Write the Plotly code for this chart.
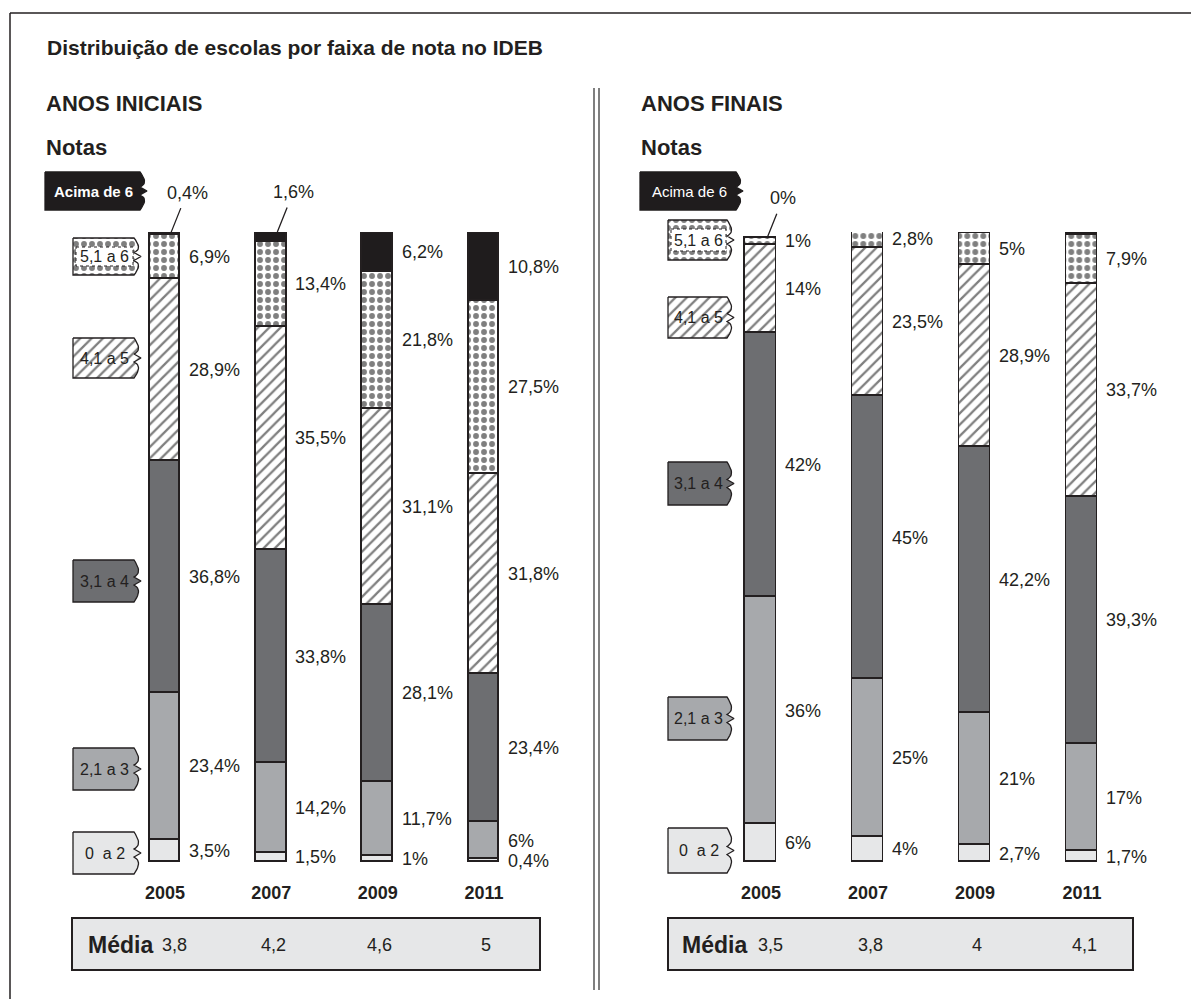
import numpy as np
import plotly.graph_objects as go

# ---------------- data ----------------
years = ["2005", "2007", "2009", "2011"]
faixas = ["0 a 2", "2,1 a 3", "3,1 a 4", "4,1 a 5", "5,1 a 6", "Acima de 6"]

# Anos iniciais (% de escolas em cada faixa)
ini_0a2 = [3.5, 1.5, 1.0, 0.4]
ini_2a3 = [23.4, 14.2, 11.7, 6.0]
ini_3a4 = [36.8, 33.8, 28.1, 23.4]
ini_4a5 = [28.9, 35.5, 31.1, 31.8]
ini_5a6 = [6.9, 13.4, 21.8, 27.5]
ini_6p = [0.4, 1.6, 6.2, 10.8]
ini_media = ["3,8", "4,2", "4,6", "5"]

# Anos finais
fin_0a2 = [6, 4, 2.7, 1.7]
fin_2a3 = [36, 25, 21, 17]
fin_3a4 = [42, 45, 42.2, 39.3]
fin_4a5 = [14, 23.5, 28.9, 33.7]
fin_5a6 = [1, 2.8, 5, 7.9]
fin_6p = [0, 0.1, 0.2, 0.4]
fin_media = ["3,5", "3,8", "4", "4,1"]

ini = [ini_0a2, ini_2a3, ini_3a4, ini_4a5, ini_5a6, ini_6p]
fin = [fin_0a2, fin_2a3, fin_3a4, fin_4a5, fin_5a6, fin_6p]

# ---------------- styling ----------------
W, H = 1191, 999
INK = "#231f20"
FONT = "Liberation Sans, Arial, sans-serif"
C_LIGHT, C_MID, C_DARK, C_BLACK = "#e6e7e8", "#a7a9ac", "#6d6e71", "#1f1c1d"

HATCH = dict(shape="/", fgcolor="#000000", bgcolor="white", size=8, solidity=0.28)
DOTS = dict(shape=".", fgcolor="#000000", bgcolor="white", size=8, solidity=0.42)

styles = {
    "0 a 2": dict(color=C_LIGHT),
    "2,1 a 3": dict(color=C_MID),
    "3,1 a 4": dict(color=C_DARK),
    "4,1 a 5": dict(color="white", pattern=HATCH),
    "5,1 a 6": dict(color="white", pattern=DOTS),
    "Acima de 6": dict(color=C_BLACK),
}


def fmt(v):
    return f"{v:g}".replace(".", ",") + "%"


fig = go.Figure()

panels = [
    dict(data=ini, media=ini_media, xa="x", ya="y"),
    dict(data=fin, media=fin_media, xa="x2", ya="y2"),
]

BAR_W = 0.29
Y0_PX, Y100_PX = 862, 232
LBL = dict(family=FONT, size=18, color=INK)

for p in panels:
    for name, vals in zip(faixas, p["data"]):
        st = styles[name]
        marker = dict(color=st["color"], line=dict(color=INK, width=1.8))
        if "pattern" in st:
            marker["pattern"] = st["pattern"]
        fig.add_trace(go.Bar(x=years, y=vals, name=name, width=BAR_W, marker=marker,
                             xaxis=p["xa"], yaxis=p["ya"], showlegend=False,
                             hoverinfo="skip"))
    # value labels
    arr = np.array(p["data"], dtype=float)
    cum = np.cumsum(arr, axis=0)
    for j, yr in enumerate(years):
        for i in range(len(faixas)):
            v = arr[i, j]
            top = cum[i, j]
            mid = top - v / 2
            if i == len(faixas) - 1 and v < 3:
                fig.add_annotation(x=j, y=top, xref=p["xa"], yref=p["ya"], text=fmt(v),
                                   showarrow=True, arrowhead=0, arrowwidth=1.3,
                                   arrowcolor=INK, ax=16, ay=-40, xshift=6,
                                   borderpad=5, font=LBL)
            else:
                fig.add_annotation(x=j, y=mid, xref=p["xa"], yref=p["ya"], text=fmt(v),
                                   showarrow=False, xanchor="left", xshift=22, font=LBL)
        fig.add_annotation(x=j, y=(H - 945) / H, xref=p["xa"], yref="paper",
                           text=p["media"][j], showarrow=False, xshift=9 if j == 0 else 2,
                           yanchor="middle", xanchor="center",
                           font=dict(family=FONT, size=18, color=INK))


def xdom(c0, c3):
    unit = (c3 - c0) / 3
    return [(c0 - 1.1 * unit) / W, (c3 + 0.6 * unit) / W]


ydom = [(H - Y0_PX) / H, (H - Y100_PX) / H]
axis_common = dict(type="category", range=[-1.1, 3.6], showgrid=False, zeroline=False,
                   showline=False, ticks="", tickmode="array", tickvals=years, ticktext=years,
                   tickfont=dict(family=FONT, size=18, color=INK, weight="bold"),
                   ticklabelstandoff=18, fixedrange=True)
yaxis_common = dict(range=[0, 100], visible=False, domain=ydom, fixedrange=True)

fig.update_layout(
    width=W, height=H, margin=dict(l=0, r=0, t=0, b=0),
    paper_bgcolor="white", plot_bgcolor="rgba(0,0,0,0)",
    barmode="stack", bargap=0,
    xaxis=dict(domain=xdom(165, 484), anchor="y", **axis_common),
    yaxis=dict(anchor="x", **yaxis_common),
    xaxis2=dict(domain=xdom(761, 1082), anchor="y2", **axis_common),
    yaxis2=dict(anchor="x2", **yaxis_common),
    xaxis3=dict(domain=[0, 1], range=[0, W], visible=False, anchor="y3", fixedrange=True),
    yaxis3=dict(domain=[0, 1], range=[H, 0], visible=False, anchor="x3", fixedrange=True),
)


# ---------------- legend tags (decoration, pixel coordinates) ----------------
def tag_outline(x0, x1, y0, y1):
    ym = (y0 + y1) / 2
    t = np.linspace(0, 1, 12)

    def qb(p0, c, p2):
        return ((1 - t) ** 2 * p0[0] + 2 * (1 - t) * t * c[0] + t ** 2 * p2[0],
                (1 - t) ** 2 * p0[1] + 2 * (1 - t) * t * c[1] + t ** 2 * p2[1])

    xs, ys = [x0, x1], [y0, y0]
    a = qb((x1, y0), (x1 + 9, y0 + 0.3 * (y1 - y0)), (x1, ym - 4))
    xs += list(a[0]); ys += list(a[1])
    xs += [x1 + 7]; ys += [ym]
    b = qb((x1, ym + 4), (x1 + 9, y1 - 0.3 * (y1 - y0)), (x1, y1))
    xs += list(b[0]); ys += list(b[1])
    xs += [x0, x0]; ys += [y1, y0]
    return xs, ys


tags = [
    # (label, style key, x0, x1, y0, y1, bold)
    ("Acima de 6", "Acima de 6", 45, 140, 172, 210, True),
    ("5,1 a 6", "5,1 a 6", 73, 134, 238, 275, False),
    ("4,1 a 5", "4,1 a 5", 73, 134, 338, 378, False),
    ("3,1 a 4", "3,1 a 4", 73, 134, 560, 602, False),
    ("2,1 a 3", "2,1 a 3", 73, 134, 748, 790, False),
    ("0  a 2", "0 a 2", 73, 134, 832, 874, False),
    ("Acima de 6", "Acima de 6", 640, 736, 172, 210, False),
    ("5,1 a 6", "5,1 a 6", 668, 727, 220, 260, False),
    ("4,1 a 5", "4,1 a 5", 668, 727, 297, 338, False),
    ("3,1 a 4", "3,1 a 4", 668, 727, 462, 505, False),
    ("2,1 a 3", "2,1 a 3", 668, 727, 697, 740, False),
    ("0  a 2", "0 a 2", 668, 727, 828, 873, False),
]
for lab, key, x0, x1, y0, y1, bold in tags:
    st = styles[key]
    xs, ys = tag_outline(x0, x1, y0, y1)
    kw = {}
    if "pattern" in st:
        kw["fillpattern"] = dict(st["pattern"])
    is_black = key == "Acima de 6"
    fig.add_trace(go.Scatter(x=xs, y=ys, xaxis="x3", yaxis="y3", mode="lines", fill="toself",
                             fillcolor=st["color"],
                             line=dict(color=C_BLACK if is_black else INK, width=1.3),
                             hoverinfo="skip", showlegend=False, **kw))
    if key == "5,1 a 6":
        fig.add_trace(go.Scatter(x=[x0 + 3, x1 - 1, x1 - 1, x0 + 3, x0 + 3],
                                 y=[y0 + 9, y0 + 9, y1 - 9, y1 - 9, y0 + 9],
                                 xaxis="x3", yaxis="y3", mode="lines", fill="toself",
                                 fillcolor="white", line=dict(color=INK, width=1, dash="dot"),
                                 hoverinfo="skip", showlegend=False))
    fig.add_annotation(x=(x0 + x1) / 2 + 1, y=(y0 + y1) / 2, xref="x3", yref="y3", text=lab,
                       showarrow=False,
                       font=dict(family=FONT, size=15 if is_black else 16,
                                 color="white" if is_black else INK,
                                 weight="bold" if bold else "normal"))

# ---------------- headings, frames, média boxes ----------------
heads = [
    ("Distribuição de escolas por faixa de nota no IDEB", 45, 47, 21),
    ("ANOS INICIAIS", 44, 103, 22),
    ("Notas", 44, 147, 22),
    ("ANOS FINAIS", 639, 103, 22),
    ("Notas", 639, 147, 22),
    ("Média", 86, 945, 23),
    ("Média", 680, 945, 23),
]
for txt, x, y, s in heads:
    fig.add_annotation(x=x, y=y, xref="x3", yref="y3", text=txt, showarrow=False,
                       xanchor="left", yanchor="middle",
                       font=dict(family=FONT, size=s, color=INK, weight="bold"))

shapes = [
    dict(type="line", x0=10, x1=W, y0=13, y1=13, line=dict(color=INK, width=1.5)),
    dict(type="line", x0=10, x1=10, y0=13, y1=H, line=dict(color=INK, width=1.5)),
    dict(type="line", x0=594, x1=594, y0=88, y1=990, line=dict(color="#555555", width=1.5)),
    dict(type="line", x0=599, x1=599, y0=88, y1=990, line=dict(color="#555555", width=1.5)),
    dict(type="rect", x0=72, x1=540, y0=918, y1=970, fillcolor=C_LIGHT,
         line=dict(color=INK, width=2), layer="below"),
    dict(type="rect", x0=668, x1=1133, y0=918, y1=970, fillcolor=C_LIGHT,
         line=dict(color=INK, width=2), layer="below"),
]
for s in shapes:
    s.update(xref="x3", yref="y3")
fig.update_layout(shapes=shapes)

fig.write_html("out.html", config={"displayModeBar": False},
               post_script="document.body.style.margin='0px';"
                           "document.body.style.overflow='hidden';")
